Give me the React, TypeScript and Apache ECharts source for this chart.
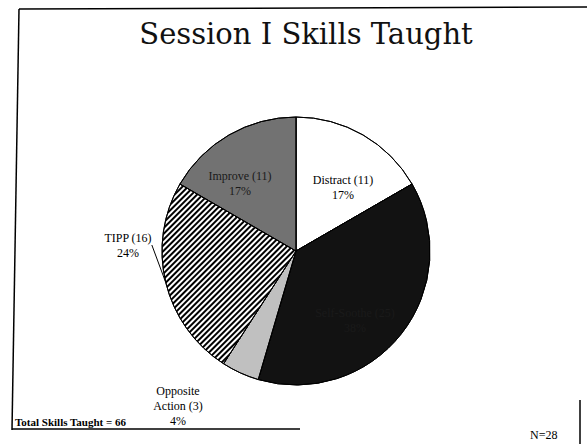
import React, { useEffect, useRef } from "react";
import * as echarts from "echarts";

const skillNames = ["Distract (11)", "Self-Soothe (25)", "Opposite\nAction (3)", "TIPP (16)", "Improve (11)"];
const skillCounts = [11, 25, 3, 16, 11];
const skillPercents = ["17%", "38%", "4%", "24%", "17%"];
const titleText = "Session I Skills Taught";
const totalText = "Total Skills Taught = 66";
const nText = "N=28";

const SERIF = "'Liberation Serif', 'DejaVu Serif', serif";

export default function App() {
  const ref = useRef<HTMLDivElement>(null);
  useEffect(() => {
    if (!ref.current) return;
    const chart = echarts.init(ref.current, undefined, { renderer: "svg" });
    const fills = ["#ffffff", "#121212", "#c0c0c0", "#ffffff", "#727272"];
    const data = skillNames.map((name, i) => {
      const item: any = {
        name,
        value: skillCounts[i],
        itemStyle: { color: fills[i], decal: { symbol: "none" } },
        label: {},
        labelLine: { show: false },
      };
      if (i === 3) {
        item.itemStyle.decal = {
          symbol: "rect",
          symbolSize: 1,
          color: "#000000",
          backgroundColor: "#ffffff",
          dashArrayX: [1, 0],
          dashArrayY: [2, 2],
          rotation: -Math.PI / 4,
        };
        item.labelLine = { show: true, length: 4, length2: 0 };
      }
      if (i === 0) item.label = { position: "inside", color: "#000" };
      if (i === 1) item.label = { position: "inside", color: "#1a1a1a" };
      if (i === 4) item.label = { position: "inside", color: "#1a1a1a" };
      if (i === 2) item.label = { position: "outside", color: "#000" };
      if (i === 3) item.label = { position: "outside", color: "#000" };
      return item;
    });
    chart.setOption({
      animation: false,
      aria: { enabled: true, decal: { show: true } },
      backgroundColor: "#ffffff",
      title: {
        text: titleText,
        left: 301,
        top: 14,
        textAlign: "center",
        textStyle: { fontFamily: "'DejaVu Serif', serif", fontSize: 29, fontWeight: "normal", color: "#111" },
      },
      graphic: [
        { type: "polyline", shape: { points: [[19, 9], [587, 7]] }, style: { stroke: "#000", lineWidth: 1.5, fill: null } },
        { type: "polyline", shape: { points: [[19, 9], [12, 430]] }, style: { stroke: "#000", lineWidth: 1.5, fill: null } },
        { type: "polyline", shape: { points: [[12, 429], [300, 429]] }, style: { stroke: "#000", lineWidth: 1.5, fill: null } },
        { type: "polyline", shape: { points: [[580, 400], [580, 444]] }, style: { stroke: "#000", lineWidth: 1.5, fill: null } },
        {
          type: "text",
          left: 15,
          top: 416,
          style: { text: totalText, font: `bold 11px ${SERIF}`, fill: "#000" },
        },
        {
          type: "text",
          left: 530,
          top: 429,
          style: { text: nText, font: `12px ${SERIF}`, fill: "#000" },
        },
      ],
      series: [
        {
          type: "pie",
          center: [296, 251],
          radius: 134,
          startAngle: 90,
          clockwise: true,
          data,
          itemStyle: { borderColor: "#000", borderWidth: 1 },
          label: {
            fontFamily: SERIF,
            fontSize: 12,
            lineHeight: 15,
            align: "center",
            formatter: (p: any) => `${p.name}\n${skillPercents[p.dataIndex]}`,
          },
          labelLine: { lineStyle: { color: "#000", width: 1 } },
          labelLayout: (p: any) => {
            if (p.dataIndex === 3) return { x: 128, y: 245, align: "center", verticalAlign: "middle" };
            if (p.dataIndex === 2) return { x: 178, y: 406, align: "center", verticalAlign: "middle" };
            if (p.dataIndex === 0) return { x: 343, y: 187, align: "center", verticalAlign: "middle" };
            if (p.dataIndex === 4) return { x: 240, y: 183, align: "center", verticalAlign: "middle" };
            if (p.dataIndex === 1) return { x: 355, y: 320, align: "center", verticalAlign: "middle" };
            return {};
          },
        },
      ],
    });
    return () => chart.dispose();
  }, []);
  return <div ref={ref} style={{ position: "fixed", left: 0, top: 0, width: 587, height: 444 }} />;
}
